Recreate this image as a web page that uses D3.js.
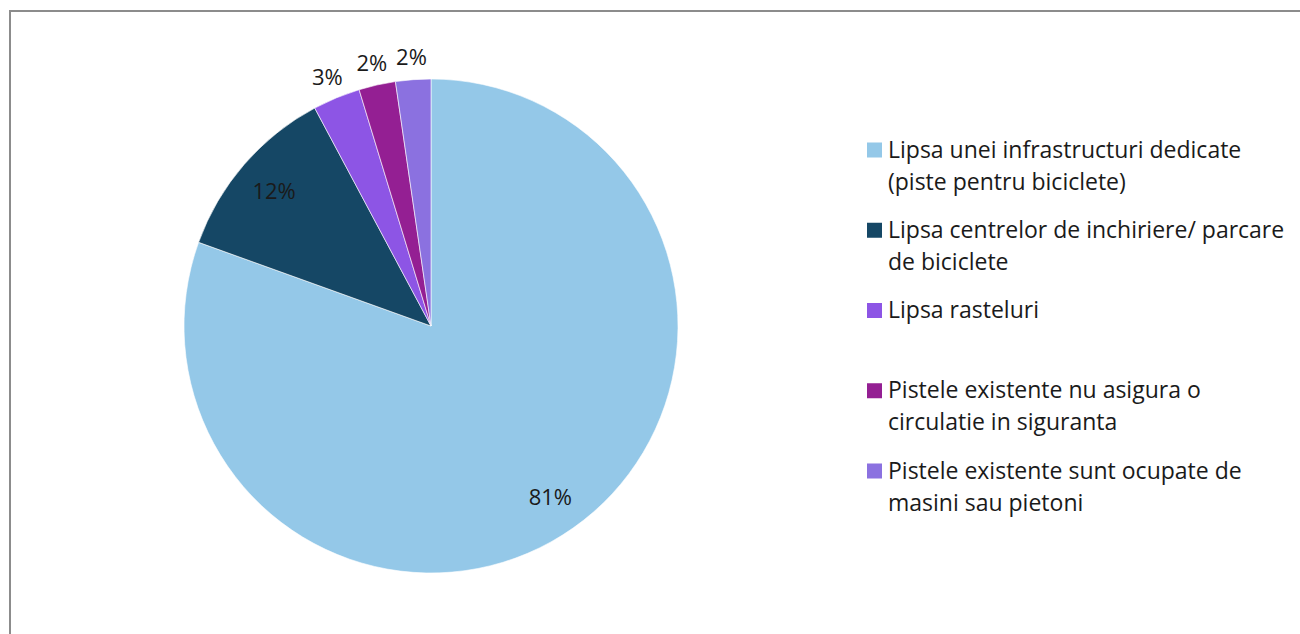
<!DOCTYPE html>
<html>
<head>
<meta charset="utf-8">
<script src="https://cdn.jsdelivr.net/npm/d3@7"></script>
<style>
  html, body { margin: 0; padding: 0; background: #fff; }
  svg { display: block; }
  text { font-family: "Open Sans", "Noto Sans", sans-serif; fill: #1a1a1a; }
</style>
</head>
<body>
<svg id="chart" width="1300" height="634"></svg>
<script>
const categories = [
  "Lipsa unei infrastructuri dedicate\n(piste pentru biciclete)",
  "Lipsa centrelor de inchiriere/ parcare\nde biciclete",
  "Lipsa rasteluri",
  "Pistele existente nu asigura o\ncirculatie in siguranta",
  "Pistele existente sunt ocupate de\nmasini sau pietoni"
];
const values = [80.5, 11.7, 3.1, 2.4, 2.3];
const colors = ["#94C8E8", "#154765", "#8D55E5", "#941F93", "#8B71E0"];
const labelInside = [true, true, false, false, false];

const svg = d3.select("#chart");

// outer frame
svg.append("rect")
  .attr("x", 10).attr("y", 11)
  .attr("width", 1300).attr("height", 640)
  .attr("fill", "none")
  .attr("stroke", "#8c8c8c")
  .attr("stroke-width", 2);

const cx = 431, cy = 326, R = 247;
const total = d3.sum(values);
const pie = d3.pie().sort(null).value(d => d)(values);
const arc = d3.arc().innerRadius(0).outerRadius(R);
const inArc = d3.arc().innerRadius(R * 0.84).outerRadius(R * 0.84);
const outArc = d3.arc().innerRadius(R + 24).outerRadius(R + 24);

const g = svg.append("g").attr("transform", `translate(${cx},${cy})`);
g.selectAll("path.slice").data(pie).join("path")
  .attr("class", "slice")
  .attr("d", arc)
  .attr("fill", (d, i) => colors[i])
  .attr("stroke", "#ffffff")
  .attr("stroke-width", 0.6);

g.selectAll("text.lbl").data(pie).join("text")
  .attr("class", "lbl")
  .attr("transform", (d, i) => {
    const c = (labelInside[i] ? inArc : outArc).centroid(d);
    return `translate(${c[0]},${c[1]})`;
  })
  .attr("text-anchor", "middle")
  .attr("dominant-baseline", "central")
  .style("font-size", "22px")
  .text(d => Math.round(d.value / total * 100) + "%");

// legend
const leg = svg.append("g").attr("transform", "translate(867,157.5)");
const items = leg.selectAll("g").data(categories).join("g")
  .attr("transform", (d, i) => `translate(0,${i * 80.25})`);
items.append("rect")
  .attr("x", 0).attr("y", -15)
  .attr("width", 15).attr("height", 15)
  .attr("fill", (d, i) => colors[i]);
items.each(function(d) {
  const t = d3.select(this).append("text")
    .attr("x", 21).attr("y", 0)
    .style("font-size", "23px");
  d.split("\n").forEach((line, j) => {
    t.append("tspan").attr("x", 21).attr("y", j * 32.2)
      .text(line);
  });
});
</script>
</body>
</html>
